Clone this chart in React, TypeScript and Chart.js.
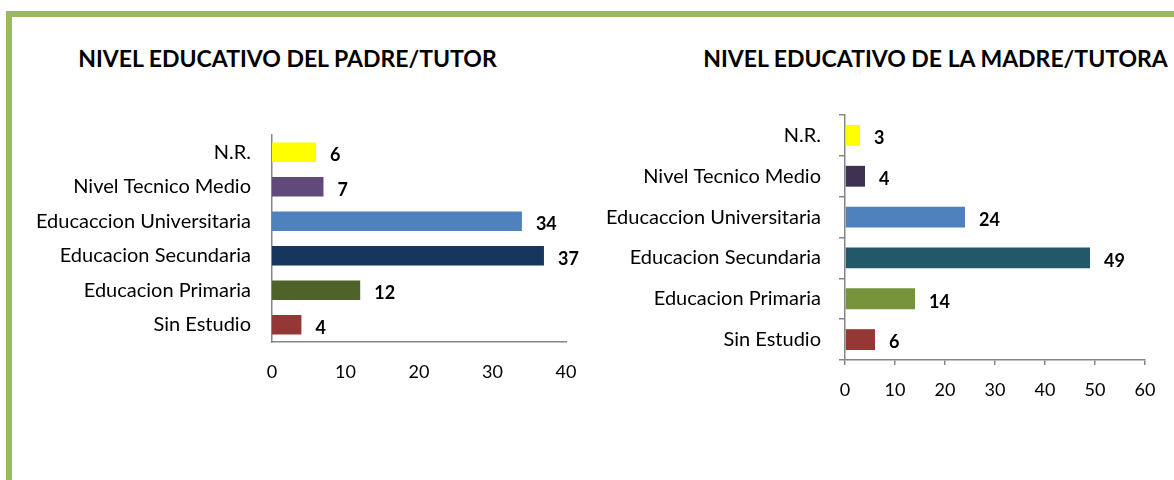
import React, { useEffect, useRef } from "react";
import { Chart, registerables } from "chart.js";

Chart.register(...registerables);

const categories = [
  "N.R.",
  "Nivel Tecnico Medio",
  "Educaccion Universitaria",
  "Educacion Secundaria",
  "Educacion Primaria",
  "Sin Estudio",
];
const padreValues = [6, 7, 34, 37, 12, 4];
const madreValues = [3, 4, 24, 49, 14, 6];
const padreColors = ["#FFFF00", "#604A7B", "#4F81BD", "#17365D", "#4F6228", "#953735"];
const madreColors = ["#FFFF00", "#3F3151", "#4F81BD", "#215968", "#77933C", "#953735"];
const padreTitle = "NIVEL EDUCATIVO DEL PADRE/TUTOR";
const madreTitle = "NIVEL EDUCATIVO DE LA MADRE/TUTORA";
const padreAxisMax = 40;
const madreAxisMax = 60;
const axisStep = 10;

const FONT = "Lato";
const AXIS_COLOR = "#868686";

const valueLabels = {
  id: "valueLabels",
  afterDatasetsDraw(chart: any) {
    const ctx = chart.ctx;
    const meta = chart.getDatasetMeta(0);
    const data = chart.data.datasets[0].data;
    ctx.save();
    ctx.font = `bold 18px ${FONT}`;
    ctx.fillStyle = "#000000";
    ctx.textAlign = "left";
    ctx.textBaseline = "middle";
    meta.data.forEach((bar: any, i: number) => {
      ctx.fillText(String(data[i]), bar.x + 14, bar.y + 3);
    });
    ctx.restore();
  },
};

type Spec = {
  values: number[];
  colors: string[];
  max: number;
  barPct: number;
  padTop: number;
  padR: number;
  yWidth: number;
  xHeight: number;
  ticks: boolean;
  xPad: number;
  yPad: number;
};

function makeConfig(s: Spec): any {
  return {
    type: "bar",
    data: {
      labels: categories,
      datasets: [
        {
          data: s.values,
          backgroundColor: s.colors,
          borderWidth: 0,
          categoryPercentage: 1,
          barPercentage: s.barPct,
        },
      ],
    },
    options: {
      indexAxis: "y",
      responsive: false,
      animation: false,
      layout: { padding: { left: 0, right: s.padR, top: s.padTop, bottom: 0 } },
      plugins: {
        legend: { display: false },
        tooltip: { enabled: false },
        title: { display: false },
      },
      scales: {
        x: {
          min: 0,
          max: s.max,
          clip: false,
          afterFit(scale: any) {
            scale.height = s.xHeight;
          },
          ticks: {
            stepSize: axisStep,
            color: "#000000",
            font: { family: FONT, size: 18 },
            padding: s.xPad,
          },
          grid: s.ticks
            ? {
                display: true,
                drawOnChartArea: false,
                drawTicks: true,
                tickLength: 5,
                color: AXIS_COLOR,
                lineWidth: 1.5,
              }
            : { display: false, drawTicks: false },
          border: { display: true, color: AXIS_COLOR, width: 1.5 },
        },
        y: {
          clip: false,
          afterFit(scale: any) {
            scale.width = s.yWidth;
          },
          ticks: {
            color: "#000000",
            font: { family: FONT, size: 20 },
            padding: s.yPad,
          },
          grid: s.ticks
            ? {
                display: true,
                drawOnChartArea: false,
                drawTicks: true,
                tickLength: 6,
                color: AXIS_COLOR,
                lineWidth: 1.5,
              }
            : { display: false, drawTicks: false },
          border: { display: true, color: AXIS_COLOR, width: 1.5 },
        },
      },
    },
    plugins: [valueLabels],
  };
}

function BarChart(props: { spec: Spec; left: number; width: number }) {
  const ref = useRef<HTMLCanvasElement | null>(null);
  useEffect(() => {
    if (!ref.current) return;
    const chart = new Chart(ref.current, makeConfig(props.spec));
    return () => chart.destroy();
  }, []);
  return (
    <canvas
      ref={ref}
      width={props.width}
      height={480}
      style={{ position: "absolute", left: props.left, top: 0, width: props.width, height: 480 }}
    />
  );
}

function Title(props: { text: string; center: number }) {
  return (
    <div
      style={{
        position: "absolute",
        left: props.center - 300,
        top: 43.6,
        width: 600,
        textAlign: "center",
        fontFamily: FONT,
        fontWeight: "bold",
        fontSize: 23,
        lineHeight: "28px",
        color: "#000000",
        whiteSpace: "nowrap",
      }}
    >
      {props.text}
    </div>
  );
}

export default function App() {
  const padreSpec: Spec = {
    values: padreValues,
    colors: padreColors,
    max: padreAxisMax,
    barPct: 0.565,
    padTop: 135,
    padR: 34,
    yWidth: 272,
    xHeight: 138,
    ticks: false,
    xPad: 19,
    yPad: 21,
  };
  const madreSpec: Spec = {
    values: madreValues,
    colors: madreColors,
    max: madreAxisMax,
    barPct: 0.51,
    padTop: 115,
    padR: 29,
    yWidth: 245,
    xHeight: 120,
    ticks: true,
    xPad: 14,
    yPad: 18,
  };
  return (
    <div
      style={{
        position: "fixed",
        left: 0,
        top: 0,
        width: 1174,
        height: 480,
        background: "#ffffff",
        overflow: "hidden",
      }}
    >
      <div
        style={{
          position: "absolute",
          left: 6,
          top: 11,
          width: 1200,
          height: 500,
          borderTop: "6px solid #9BBB59",
          borderLeft: "6px solid #9BBB59",
        }}
      />
      <Title text={padreTitle} center={287.5} />
      <Title text={madreTitle} center={935.5} />
      <BarChart spec={padreSpec} left={0} width={600} />
      <BarChart spec={madreSpec} left={600} width={574} />
    </div>
  );
}
